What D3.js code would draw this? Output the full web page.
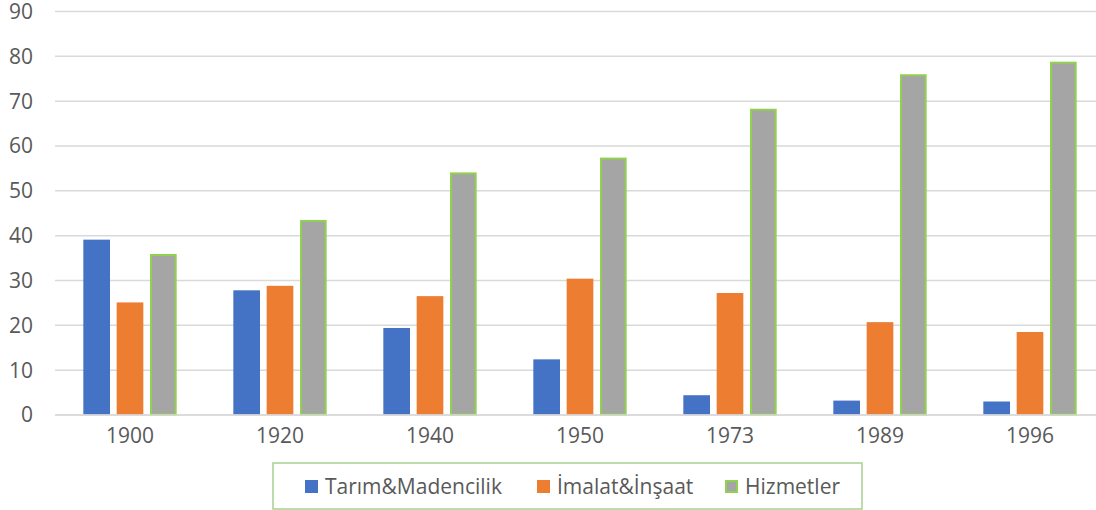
<!DOCTYPE html>
<html>
<head>
<meta charset="utf-8">
<script src="https://cdn.jsdelivr.net/npm/d3@7"></script>
<style>
  html, body { margin: 0; padding: 0; background: #fff; }
  svg { display: block; font-family: "Open Sans", "Noto Sans", sans-serif; }
</style>
</head>
<body>
<svg id="chart" width="1096" height="510"></svg>
<script>
const categories = ["1900", "1920", "1940", "1950", "1973", "1989", "1996"];
const seriesNames = ["Tarım&Madencilik", "İmalat&İnşaat", "Hizmetler"];
const tarim   = [39.0, 27.7, 19.3, 12.3, 4.3, 3.1, 2.9];
const imalat  = [25.0, 28.7, 26.4, 30.3, 27.1, 20.6, 18.4];
const hizmet  = [35.8, 43.4, 54.0, 57.3, 68.2, 75.9, 78.7];
const yTicks  = [0, 10, 20, 30, 40, 50, 60, 70, 80, 90];

(function () {
const seriesValues = [tarim, imalat, hizmet];
const colors = ["#4472C4", "#ED7D31", "#A5A5A5"];
const strokes = ["none", "none", "#92D050"];
const FONT = '"Open Sans", "Noto Sans", sans-serif';

const svg = d3.select("#chart");
const pLeft = 55, pRight = 1105, pTop = 11, pBottom = 414.5;

const x0 = d3.scaleBand().domain(categories).range([pLeft, pRight])
  .paddingInner(1/3).paddingOuter(1/6);
const x1 = d3.scaleBand().domain(seriesNames).range([0, x0.bandwidth()])
  .paddingInner(0.2).paddingOuter(0.1);
const y = d3.scaleLinear().domain([0, 90]).range([pBottom, pTop]);

// gridlines
const yAxis = d3.axisLeft(y).tickValues(yTicks).tickSize(-(pRight - pLeft)).tickPadding(22);
const gy = svg.append("g").attr("transform", `translate(${pLeft},0)`).call(yAxis)
  .attr("font-family", FONT).attr("font-size", 21);
gy.select(".domain").remove();
gy.selectAll(".tick line").attr("stroke", "#D9D9D9").attr("stroke-width", 1.5);
gy.selectAll(".tick text").attr("fill", "#595959").attr("dy", "0.35em");

// bars
categories.forEach((cat, i) => {
  const g = svg.append("g").attr("transform", `translate(${x0(cat)},0)`);
  seriesNames.forEach((s, j) => {
    const v = seriesValues[j][i];
    const sw = strokes[j] === "none" ? 0 : 2;
    g.append("rect")
      .attr("x", x1(s) + sw / 2)
      .attr("y", y(v) + sw / 2)
      .attr("width", x1.bandwidth() - sw)
      .attr("height", y(0) - y(v) - sw / 2)
      .attr("fill", colors[j])
      .attr("stroke", strokes[j])
      .attr("stroke-width", sw);
  });
});

// x axis
const xAxis = d3.axisBottom(x0).tickSize(0).tickPadding(14);
const gx = svg.append("g").attr("transform", `translate(0,${pBottom})`).call(xAxis)
  .attr("font-family", FONT).attr("font-size", 21);
gx.select(".domain").attr("stroke", "#D9D9D9").attr("stroke-width", 1.5);
gx.selectAll(".tick text").attr("fill", "#595959");

// legend
const lg = svg.append("g").attr("font-family", FONT).attr("font-size", 21);
lg.append("rect").attr("x", 273).attr("y", 463).attr("width", 589).attr("height", 46)
  .attr("fill", "#fff").attr("stroke", "#A9D18E").attr("stroke-width", 1.5);
const legendX = [305, 537, 725];
seriesNames.forEach((s, j) => {
  const sw = strokes[j] === "none" ? 0 : 2;
  lg.append("rect").attr("x", legendX[j] + sw / 2).attr("y", 480 + sw / 2)
    .attr("width", 13 - sw).attr("height", 13 - sw)
    .attr("fill", colors[j]).attr("stroke", strokes[j]).attr("stroke-width", sw);
  lg.append("text").attr("x", legendX[j] + 20).attr("y", 487).attr("dy", "0.35em")
    .attr("fill", "#595959").text(s);
});
})();
</script>
</body>
</html>
